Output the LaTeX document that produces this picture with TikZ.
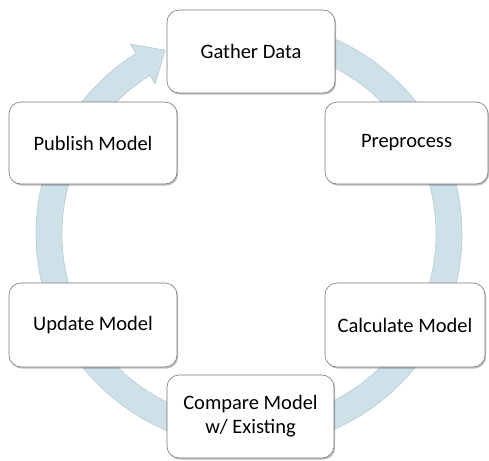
\documentclass[tikz,border=0pt]{standalone}
\usepackage{fontspec}
\setmainfont{Carlito}
\usetikzlibrary{shadows}
\definecolor{bandfill}{RGB}{206,224,232}
\definecolor{bandedge}{RGB}{175,198,208}
\definecolor{boxedge}{RGB}{120,120,120}
\begin{document}
\begin{tikzpicture}[x=1pt,y=1pt,
  stepbox/.style={draw=boxedge, line width=0.6pt, fill=white, rounded corners=12pt,
    inner sep=0pt, align=center, font=\fontsize{20.5}{24}\selectfont,
    drop shadow={shadow xshift=1.2pt, shadow yshift=-1.6pt, opacity=0.25, fill=black}},
  band/.style={fill=bandfill, draw=bandedge, line width=0.5pt}]
\useasboundingbox (0,0) rectangle (489,-460);
\begin{scope}[shift={(249,-234)}]
  \filldraw[band] (90:213) arc[start angle=90, end angle=-238, radius=213]
    -- (122:224) -- (114.5:202) -- (122:177) -- (122:187)
    arc[start angle=-238, end angle=90, radius=187] -- cycle;
\end{scope}
\node[stepbox, minimum width=168pt, minimum height=83pt] (gather) at (251,-51.5) {Gather Data};
\node[stepbox, minimum width=163pt, minimum height=82pt] (pre) at (406.5,-143) {Preprocess};
\node[stepbox, minimum width=160pt, minimum height=84pt] (calc) at (405,-325) {Calculate Model};
\node[stepbox, minimum width=167pt, minimum height=83pt] (cmp) at (250.5,-416.5) {Compare Model\\w/ Existing};
\node[stepbox, minimum width=168pt, minimum height=84pt] (upd) at (93,-325) {Update Model};
\node[stepbox, minimum width=168pt, minimum height=82pt] (pub) at (93,-143) {Publish Model};
\end{tikzpicture}
\end{document}
